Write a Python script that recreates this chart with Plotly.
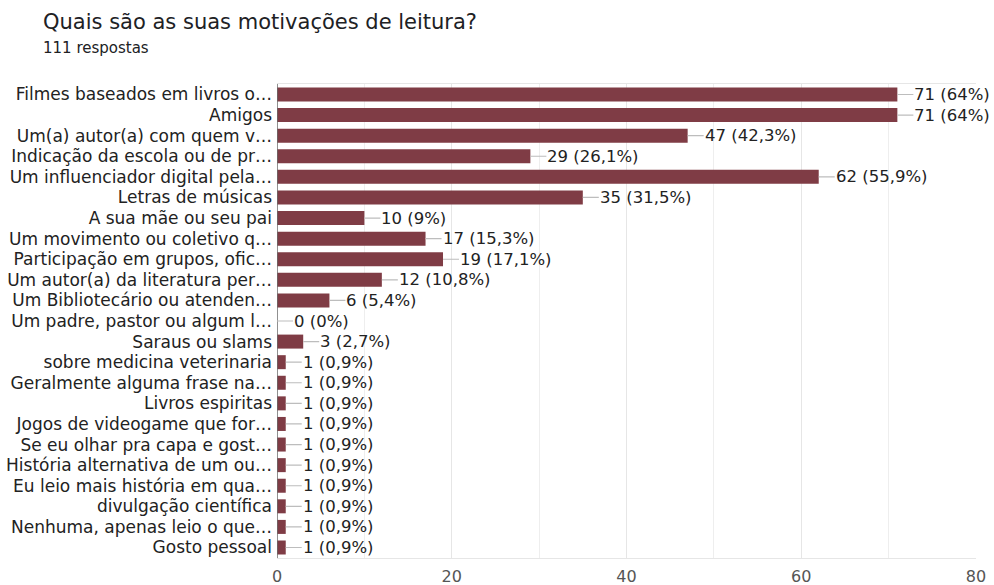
import plotly.graph_objects as go

categories = [
    "Filmes baseados em livros o…",
    "Amigos",
    "Um(a) autor(a) com quem v…",
    "Indicação da escola ou de pr…",
    "Um influenciador digital pela…",
    "Letras de músicas",
    "A sua mãe ou seu pai",
    "Um movimento ou coletivo q…",
    "Participação em grupos, ofic…",
    "Um autor(a) da literatura per…",
    "Um Bibliotecário ou atenden…",
    "Um padre, pastor ou algum l…",
    "Saraus ou slams",
    "sobre medicina veterinaria",
    "Geralmente alguma frase na…",
    "Livros espiritas",
    "Jogos de videogame que for…",
    "Se eu olhar pra capa e gost…",
    "História alternativa de um ou…",
    "Eu leio mais história em qua…",
    "divulgação científica",
    "Nenhuma, apenas leio o que…",
    "Gosto pessoal",
]
values = [71, 71, 47, 29, 62, 35, 10, 17, 19, 12, 6, 0, 3, 1, 1, 1, 1, 1, 1, 1, 1, 1, 1]
percents = ["64%", "64%", "42,3%", "26,1%", "55,9%", "31,5%", "9%", "15,3%", "17,1%",
            "10,8%", "5,4%", "0%", "2,7%", "0,9%", "0,9%", "0,9%", "0,9%", "0,9%",
            "0,9%", "0,9%", "0,9%", "0,9%", "0,9%"]
tick_values = [0, 20, 40, 60, 80]
total = 111

bar_color = "#7f3c45"
FONT = "DejaVu Sans, Verdana, sans-serif"

fig = go.Figure()
fig.add_trace(go.Bar(
    x=values, y=categories, orientation="h",
    marker=dict(color=bar_color, line=dict(width=0)),
    hoverinfo="skip",
))

annotations = []
for cat, v, p in zip(categories, values, percents):
    annotations.append(dict(
        x=v, y=cat, xref="x", yref="y",
        text=f"{v} ({p})", showarrow=True, arrowhead=0, arrowwidth=1.2,
        arrowcolor="#bdbdbd", ax=16, ay=0, xanchor="left", yanchor="middle",
        font=dict(family=FONT, size=16.5, color="#222222"),
        borderpad=0, standoff=0, startstandoff=0,
    ))

W, H = 994, 585
ml, mr, mt, mb = 277, 18, 84, 27

def px_to_paper(px, py):
    return (px - ml) / (W - ml - mr), 1 - (py - mt) / (H - mt - mb)

tx, ty = px_to_paper(41, 22)
annotations.append(dict(
    x=tx, y=ty, xref="paper", yref="paper", text="Quais são as suas motivações de leitura?",
    showarrow=False, xanchor="left", yanchor="middle",
    font=dict(family=FONT, size=21, color="#202124"),
))
sx, sy = px_to_paper(41, 48)
annotations.append(dict(
    x=sx, y=sy, xref="paper", yref="paper", text=f"{total} respostas",
    showarrow=False, xanchor="left", yanchor="middle",
    font=dict(family=FONT, size=15, color="#202124"),
))

fig.update_layout(
    width=W, height=H,
    margin=dict(l=ml, r=mr, t=mt, b=mb, pad=0),
    paper_bgcolor="white", plot_bgcolor="white",
    showlegend=False, bargap=0.32,
    annotations=annotations,
    font=dict(family=FONT, size=16, color="#222222"),
    xaxis=dict(
        range=[0, 80], tickvals=tick_values, ticktext=[str(t) for t in tick_values],
        showgrid=True, gridcolor="#e6e6e6", gridwidth=1,
        minor=dict(dtick=10, tick0=0, showgrid=True, gridcolor="#eeeeee", gridwidth=1),
        zeroline=False, showline=True, mirror=True, linecolor="#e6e6e6", linewidth=1,
        tickfont=dict(family=FONT, size=16, color="#555555"), ticks="", ticklabelstandoff=4,
        automargin=False, fixedrange=True,
    ),
    yaxis=dict(
        categoryorder="array", categoryarray=categories, autorange="reversed",
        showgrid=False, zeroline=False, showline=False,
        ticks="", tickfont=dict(family=FONT, size=17, color="#222222"), ticklabelstandoff=4,
        automargin=False, fixedrange=True,
    ),
    shapes=[dict(type="line", xref="x", yref="paper", x0=0, x1=0, y0=0, y1=1,
                 line=dict(color="#6b6b6b", width=1.5))],
)

fig.write_html("out.html")
